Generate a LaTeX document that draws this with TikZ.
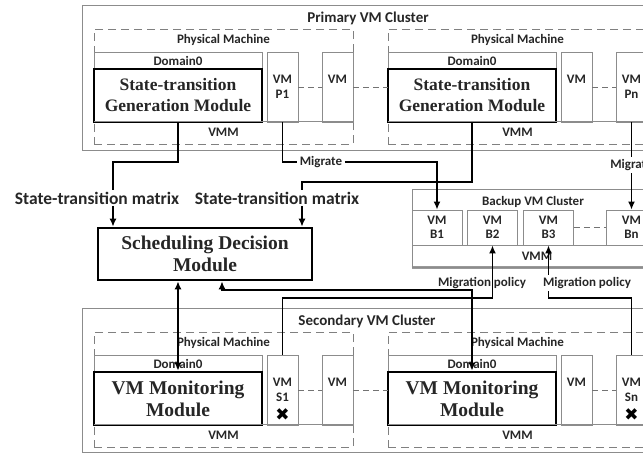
\documentclass[tikz,border=0pt]{standalone}
\usepackage{fontspec}
\setmainfont{Liberation Serif}
\setsansfont{Carlito}
\newfontfamily\symfont{DejaVu Sans}
\usetikzlibrary{arrows.meta,calc}

\begin{document}
\begin{tikzpicture}[
  x=1pt, y=-1pt,
  >={Latex[length=8pt,width=7pt]},
  every node/.style={text=black!85},
  cluster/.style={draw=black!45, line width=0.8pt, inner sep=0pt},
  ctitle/.style={font=\sffamily\bfseries\fontsize{15}{17}\selectfont},
  pmbox/.style={draw=black!50, dash pattern=on 8pt off 5pt, line width=0.8pt, inner sep=0pt},
  thinbox/.style={draw=black!45, line width=0.8pt, inner sep=0pt, align=center,
    font=\sffamily\bfseries\fontsize{13}{15}\selectfont},
  vmbox/.style={thinbox, minimum width=31, minimum height=70},
  bvmbox/.style={thinbox, minimum width=50, minimum height=35,
    font=\sffamily\bfseries\fontsize{13}{14}\selectfont},
  vmmbar/.style={inner sep=0pt, minimum width=259, minimum height=21,
    font=\sffamily\bfseries\fontsize{13}{15}\selectfont},
  boxline/.style={draw=black!45, line width=0.8pt},
  module/.style={draw=black, line width=2.6pt, align=center, inner sep=0pt,
    font=\bfseries\fontsize{19.5}{22}\selectfont},
  lab/.style={font=\sffamily\bfseries\fontsize{13}{15}\selectfont, inner sep=2.5pt},
  biglab/.style={font=\sffamily\bfseries\fontsize{17.5}{20}\selectfont, inner sep=1.5pt},
  flow/.style={line width=2.2pt},
  move/.style={line width=1.5pt},
  vmlink/.style={draw=black!55, dash pattern=on 6pt off 4pt, line width=0.8pt},
  xmark/.style={font=\symfont\fontsize{17}{17}\selectfont, inner sep=0pt, text=black}
]
  \useasboundingbox (0,0) rectangle (643,453);

  % primary cluster
  \node[cluster, minimum width=578, minimum height=145] (prim) at (371,77.5) {};
  \node[ctitle] (primtitle) at (368,18) {Primary VM Cluster};

  \node[pmbox, minimum width=259, minimum height=115] (pmPL) at (223.5,86.5) {};
  \node[lab] (pmPLtxt) at (223.5,40) {Physical Machine};
  \node[thinbox, minimum width=168, minimum height=70] (d0PL) at (178,87) {};
  \node[lab] (d0PLtxt) at (178,61) {Domain0};
  \node[module, minimum width=168, minimum height=53,
    font=\bfseries\fontsize{17.5}{21}\selectfont] (stgL) at (178,95.5)
    {State-transition\\Generation Module};
  \node[vmbox] (vmP1) at (282.5,87) {VM\\P1};
  \node[vmbox] (vmPL) at (337.5,87) {VM\\\phantom{P1}};
  \node[vmmbar] (vmmPL) at (223.5,132.5) {VMM};
  \draw[boxline] (vmmPL.north west) -- (vmmPL.north east);

  \node[pmbox, minimum width=259, minimum height=115] (pmPR) at (517.5,86.5) {};
  \node[lab] (pmPRtxt) at (517.5,40) {Physical Machine};
  \node[thinbox, minimum width=168, minimum height=70] (d0PR) at (472,87) {};
  \node[lab] (d0PRtxt) at (472,61) {Domain0};
  \node[module, minimum width=168, minimum height=53,
    font=\bfseries\fontsize{17.5}{21}\selectfont] (stgR) at (472,95.5)
    {State-transition\\Generation Module};
  \node[vmbox] (vmPR) at (576.5,87) {VM\\\phantom{Pn}};
  \node[vmbox] (vmPn) at (631.5,87) {VM\\Pn};
  \node[vmmbar] (vmmPR) at (517.5,132.5) {VMM};
  \draw[boxline] (vmmPR.north west) -- (vmmPR.north east);

  \draw[vmlink] (vmP1.east) -- (vmPL.west);
  \draw[vmlink] (vmPL.east) -- (d0PR.west);
  \draw[vmlink] (vmPR.east) -- (vmPn.west);

  % backup cluster
  \node[cluster, minimum width=250, minimum height=78] (bkp) at (537,228) {};
  \draw[line width=2.5pt, black!40] (bkp.south west) -- (bkp.south east);
  \node[lab] (bkptitle) at (533,202) {Backup VM Cluster};
  \node[bvmbox] (vmB1) at (437,227.5) {VM\\B1};
  \node[bvmbox] (vmB2) at (492.5,227.5) {VM\\B2};
  \node[bvmbox] (vmB3) at (548.5,227.5) {VM\\B3};
  \node[bvmbox] (vmBn) at (631.5,227.5) {VM\\Bn};
  \node[thinbox, minimum width=250, minimum height=22] (vmmB) at (537,256) {VMM};
  \draw[vmlink] (vmB3.east) -- (vmBn.west);

  % scheduler
  \node[module, minimum width=214, minimum height=52] (sched) at (205,254)
    {Scheduling Decision\\Module};

  % secondary cluster
  \node[cluster, minimum width=578, minimum height=144] (sec) at (371,380.5) {};
  \node[ctitle] (sectitle) at (367,321) {Secondary VM Cluster};

  \node[pmbox, minimum width=259, minimum height=115] (pmSL) at (223.5,389.5) {};
  \node[lab] (pmSLtxt) at (223.5,343) {Physical Machine};
  \node[thinbox, minimum width=168, minimum height=70] (d0SL) at (178,390) {};
  \node[lab] (d0SLtxt) at (178,364) {Domain0};
  \node[module, minimum width=168, minimum height=53] (monL) at (178,398.5)
    {VM Monitoring\\Module};
  \node[vmbox] (vmS1) at (282.5,390) {VM\\S1};
  \node[vmbox] (vmSL) at (337.5,390) {VM\\\phantom{S1}};
  \node[vmmbar] (vmmSL) at (223.5,435.5) {VMM};
  \draw[boxline] (vmmSL.north west) -- (vmmSL.north east);
  \node[xmark] (xS1) at (282.5,415) {✖};

  \node[pmbox, minimum width=259, minimum height=115] (pmSR) at (517.5,389.5) {};
  \node[lab] (pmSRtxt) at (517.5,343) {Physical Machine};
  \node[thinbox, minimum width=168, minimum height=70] (d0SR) at (472,390) {};
  \node[lab] (d0SRtxt) at (472,364) {Domain0};
  \node[module, minimum width=168, minimum height=53] (monR) at (472,398.5)
    {VM Monitoring\\Module};
  \node[vmbox] (vmSR) at (576.5,390) {VM\\\phantom{Sn}};
  \node[vmbox] (vmSn) at (631.5,390) {VM\\Sn};
  \node[vmmbar] (vmmSR) at (517.5,435.5) {VMM};
  \draw[boxline] (vmmSR.north west) -- (vmmSR.north east);
  \node[xmark] (xSn) at (631.5,415) {✖};

  \draw[vmlink] (vmS1.east) -- (vmSL.west);
  \draw[vmlink] (vmSL.east) -- (d0SR.west);
  \draw[vmlink] (vmSR.east) -- (vmSn.west);

  % labels on the connectors
  \node[biglab] (stm1) at (97,198) {State-transition matrix};
  \node[biglab] (stm2) at (277,198) {State-transition matrix};
  \node[lab] (mig1) at (321,162) {Migrate};
  \node[lab, fill=white] (mig2) at (631.5,165) {Migrate};
  \node[lab] (pol1) at (482,283) {Migration policy};
  \node[lab] (pol2) at (587,283) {Migration policy};

  % connectors
  \coordinate (stL) at (113,162);
  \draw[flow] (stgL.south) |- (stL) -- (stm1.north -| stL);
  \draw[flow,->] (stm1.south -| stL) -- (stL |- sched.north);
  \coordinate (stR) at (302,182);
  \draw[flow] (stgR.south) |- (stR) -- (stm2.north -| stR);
  \draw[flow,->] (stm2.south -| stR) -- (stR |- sched.north);

  \draw[move] (vmP1.south) |- (mig1.west);
  \draw[move,->] (mig1.east) -| (vmB1.north);
  \draw[move] (vmPn.south) -- (mig2.north);
  \draw[move,->] (mig2.south) -- (vmBn.north);

  \draw[flow,<->] (monL.north) -- (monL.north |- sched.south);
  \coordinate (mnR) at (222,290);
  \draw[flow,<->] (monR.north) |- (mnR) -- (mnR |- sched.south);

  \coordinate (plL) at (492.5,298);
  \draw[move,->] (vmS1.north) |- (plL) -- (vmB2.south);
  \coordinate (plR) at (548.5,298);
  \draw[move] (vmSn.north) |- (plR) -- (pol2.south -| plR);
  \draw[move,->] (pol2.north -| plR) -- (vmB3.south);
\end{tikzpicture}
\end{document}
